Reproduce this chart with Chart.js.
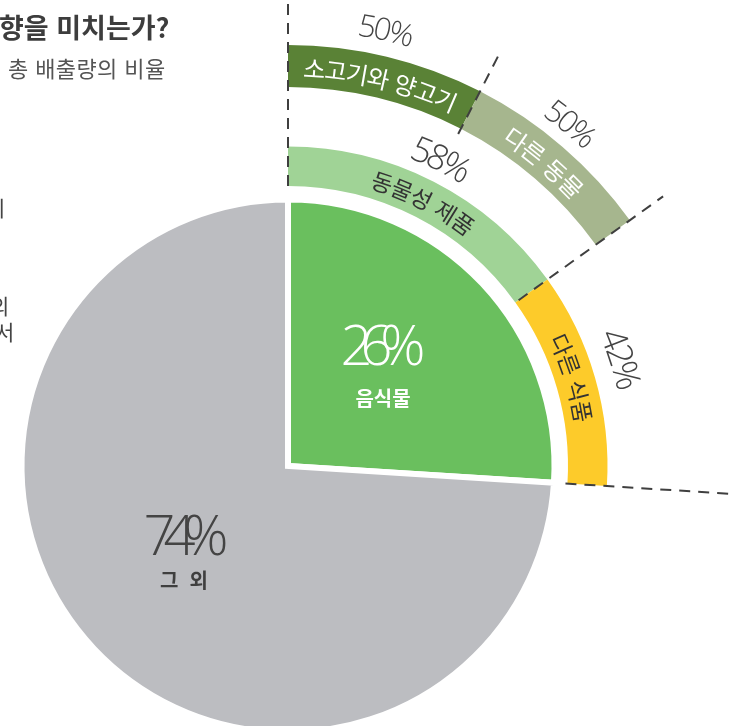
<!DOCTYPE html>
<html lang="ko">
<head>
<meta charset="utf-8">
<script src="https://cdn.jsdelivr.net/npm/chart.js@4.4.1/dist/chart.umd.min.js"></script>
<style>
  html, body { margin: 0; padding: 0; background: #fff; }
  #wrap { position: relative; width: 729px; height: 726px; overflow: hidden; }
  #chart { position: absolute; left: -212px; top: -34px; }
  .txt { position: absolute; font-family: "Noto Sans CJK KR", sans-serif; color: #444; white-space: nowrap; line-height: 1; }
</style>
</head>
<body>
<div id="wrap">
  <canvas id="chart" width="1000" height="1000"></canvas>
  <div class="txt" style="left:-1px; top:13px; font-size:27px; font-weight:bold; color:#3d3d3d;">향을 미치는가?</div>
  <div class="txt" style="left:8px; top:56px; font-size:22px; letter-spacing:0.4px; color:#555;">총 배출량의 비율</div>
  <div class="txt" style="left:-14px; top:197px; font-size:21px;">이</div>
  <div class="txt" style="left:-10px; top:295px; font-size:21px;">의</div>
  <div class="txt" style="left:-5px; top:321px; font-size:21px;">서</div>
</div>
<script>
// share of all emissions
const mainLabels = ['음식물', '그 외'];
const mainValues = [26, 74];
// split of the food share
const foodLabels = ['동물성 제품', '다른 식품'];
const foodValues = [58, 42];
// split of the animal products share
const animalLabels = ['소고기와 양고기', '다른 동물'];
const animalValues = [50, 50];

const sum = arr => arr.reduce((a, b) => a + b, 0);
const foodCirc = 360 * mainValues[0] / sum(mainValues);
const animalCirc = foodCirc * foodValues[0] / sum(foodValues);

const DARK = '#444';
const NUM_FONT = '"Open Sans", "Noto Sans", sans-serif';
const KR_FONT = '"Noto Sans CJK KR", sans-serif';

// text that follows a circle, read clockwise, tops outward
function arcText(ctx, str, cx, cy, r, mid, sp) {
  const chars = [...str];
  const ws = chars.map(c => ctx.measureText(c).width + sp);
  const total = sum(ws) - sp;
  let a = mid - total / r / 2;
  ctx.textAlign = 'center';
  ctx.textBaseline = 'middle';
  chars.forEach((c, i) => {
    const ang = a + (ws[i] - sp) / r / 2;
    ctx.save();
    ctx.translate(cx + r * Math.cos(ang), cy + r * Math.sin(ang));
    ctx.rotate(ang + Math.PI / 2);
    ctx.fillText(c, 0, 0);
    ctx.restore();
    a += ws[i] / r;
  });
}

function spacedText(ctx, str, x, y, sp) {
  const chars = [...str];
  const ws = chars.map(c => ctx.measureText(c).width);
  const total = sum(ws) + sp * (chars.length - 1);
  let px = x - total / 2;
  ctx.textAlign = 'left';
  ctx.textBaseline = 'middle';
  chars.forEach((c, i) => {
    ctx.fillText(c, px, y);
    px += ws[i] + sp;
  });
}

const midAngle = arc => (arc.startAngle + arc.endAngle) / 2;

const labelPlugin = {
  id: 'ringLabels',
  afterDatasetsDraw(chart) {
    const ctx = chart.ctx;
    const animalArcs = chart.getDatasetMeta(0).data;
    const foodArcs = chart.getDatasetMeta(2).data;
    const mainArcs = chart.getDatasetMeta(4).data;
    const cx = mainArcs[0].x, cy = mainArcs[0].y;

    // dashed guide lines on the splits
    ctx.save();
    ctx.strokeStyle = '#3f3f3f';
    ctx.lineWidth = 2;
    ctx.setLineDash([11, 8]);
    const dash = (ang, r0, r1) => {
      ctx.beginPath();
      ctx.moveTo(cx + r0 * Math.cos(ang), cy + r0 * Math.sin(ang));
      ctx.lineTo(cx + r1 * Math.cos(ang), cy + r1 * Math.sin(ang));
      ctx.stroke();
    };
    const fr = foodArcs[0].innerRadius;
    dash(foodArcs[0].startAngle, fr, 500);
    dash(animalArcs[0].endAngle, animalArcs[0].innerRadius - 6, 462);
    dash(foodArcs[0].endAngle, fr + 4, 462);
    dash(foodArcs[1].endAngle, fr - 2, 500);
    ctx.restore();

    // names inside the rings
    ctx.save();
    ctx.font = '24px ' + KR_FONT;
    const ar = (animalArcs[0].innerRadius + animalArcs[0].outerRadius) / 2 - 2;
    ctx.fillStyle = '#fff';
    arcText(ctx, animalLabels[0], cx, cy, ar, midAngle(animalArcs[0]), -0.5);
    arcText(ctx, animalLabels[1], cx, cy, ar, midAngle(animalArcs[1]) - 0.01, 0);
    ctx.font = '23px ' + KR_FONT;
    const fr2 = (foodArcs[0].innerRadius + foodArcs[0].outerRadius) / 2 - 1;
    ctx.fillStyle = '#333';
    arcText(ctx, foodLabels[0], cx, cy, fr2, midAngle(foodArcs[0]), 0);
    arcText(ctx, foodLabels[1], cx, cy, fr2, midAngle(foodArcs[1]) - 0.02, 0);

    // percentages outside the rings
    ctx.fillStyle = DARK;
    ctx.font = '300 31px ' + NUM_FONT;
    arcText(ctx, animalValues[0] + '%', cx, cy, 445, midAngle(animalArcs[0]) - 0.015, -2);
    arcText(ctx, animalValues[1] + '%', cx, cy, 442, midAngle(animalArcs[1]) - 0.02, -2);
    ctx.font = '300 35px ' + NUM_FONT;
    arcText(ctx, foodValues[0] + '%', cx, cy, 341, midAngle(foodArcs[0]) - 0.01, -3);
    arcText(ctx, foodValues[1] + '%', cx, cy, 348, midAngle(foodArcs[1]) - 0.03, -3);

    // main slice labels
    ctx.font = '300 56px ' + NUM_FONT;
    ctx.fillStyle = '#fff';
    spacedText(ctx, mainValues[0] + '%', cx + 95, cy - 117, -12);
    ctx.fillStyle = DARK;
    spacedText(ctx, mainValues[1] + '%', cx - 102, cy + 73, -12);
    ctx.font = 'bold 20px ' + KR_FONT;
    ctx.fillStyle = '#fff';
    spacedText(ctx, mainLabels[0], cx + 95, cy - 68, 0);
    ctx.fillStyle = '#3f3f3f';
    spacedText(ctx, mainLabels[1].replace(' ', '  '), cx - 104, cy + 114, 0);
    ctx.restore();
  }
};

new Chart(document.getElementById('chart'), {
  type: 'pie',
  data: {
    labels: mainLabels,
    datasets: [
      {
        label: '동물성 제품',
        data: animalValues,
        backgroundColor: ['#5a8236', '#a6b68e'],
        borderWidth: 0,
        hoverBorderWidth: 0,
        circumference: animalCirc,
        weight: 42
      },
      { label: 'gap', data: [], weight: 59.5 },
      {
        label: '음식물',
        data: foodValues,
        backgroundColor: ['#a0d396', '#fdcb2a'],
        borderWidth: 0,
        circumference: foodCirc,
        weight: 39.5
      },
      { label: 'gap', data: [], weight: 13.5 },
      {
        label: '총 배출량',
        data: mainValues,
        backgroundColor: ['#6abf5e', '#bcbdc1'],
        borderColor: '#fff',
        borderWidth: 6,
        borderJoinStyle: 'miter',
        weight: 266.5
      }
    ]
  },
  options: {
    responsive: false,
    animation: false,
    layout: { padding: 79 },
    plugins: {
      legend: { display: false },
      tooltip: { enabled: false }
    },
    hoverOffset: 0
  },
  plugins: [labelPlugin]
});
</script>
</body>
</html>
